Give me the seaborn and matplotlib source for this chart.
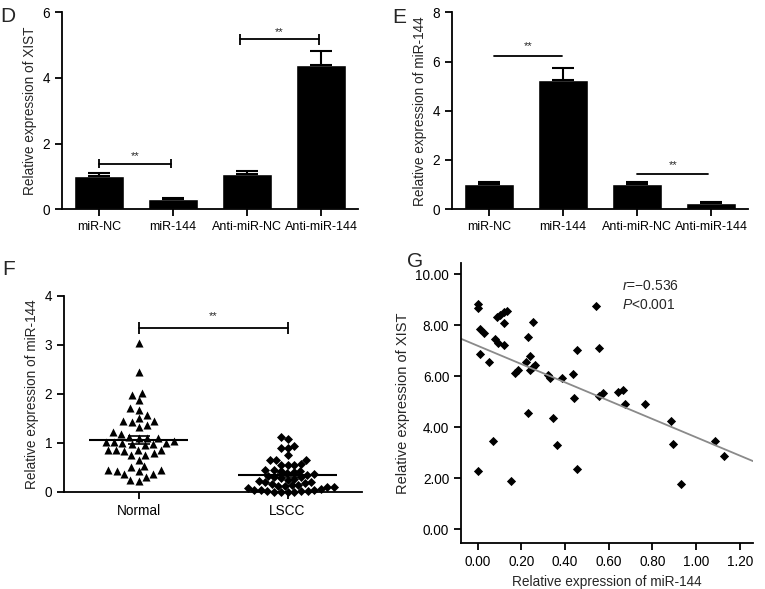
import numpy as np
import pandas as pd
import matplotlib
matplotlib.use('Agg')
import matplotlib.pyplot as plt
import seaborn as sns
from matplotlib.ticker import FormatStrFormatter

# Panel D - XIST after miR-144 / anti-miR-144
groups = ['miR-NC', 'miR-144', 'Anti-miR-NC', 'Anti-miR-144']
xist_mean = [1.01, 0.30, 1.06, 4.39]
xist_err = [0.10, 0.04, 0.09, 0.42]

# Panel E - miR-144 after the same treatments
mir_mean = [1.03, 5.24, 1.03, 0.25]
mir_err = [0.07, 0.50, 0.07, 0.03]

# Panel F - miR-144 in tissues
normal_vals = [3.04, 2.44, 2.02, 1.98, 1.87, 1.68, 1.72, 1.58, 1.45, 1.42, 1.45, 1.51,
               1.32, 1.37, 1.22, 1.18, 1.11, 1.12, 1.11, 1.03, 0.98, 1.00, 1.05, 0.97,
               1.02, 0.86, 0.86, 0.85, 0.76, 0.79, 0.84, 0.86, 0.66, 0.43, 0.37, 0.51,
               0.45, 0.45, 0.54, 0.37, 0.42, 0.31, 0.22, 0.25, 0.95, 1.00, 0.75, 1.10]
lscc_vals = [1.08, 1.13, 0.90, 0.90, 0.93, 0.76, 0.66, 0.66, 0.56, 0.56, 0.56, 0.58,
             0.66, 0.45, 0.43, 0.45, 0.42, 0.40, 0.38, 0.36, 0.35, 0.33, 0.30, 0.30,
             0.28, 0.27, 0.25, 0.22, 0.20, 0.20, 0.18, 0.16, 0.15, 0.14, 0.12, 0.10,
             0.10, 0.08, 0.06, 0.05, 0.04, 0.03, 0.02, 0.02, 0.01, 0.01, 0.00, 0.00,
             0.05, 0.12]

# Panel G - correlation miR-144 vs XIST
g_mir = [0.00, 0.00, 0.011, 0.03, 0.011, 0.05, 0.088, 0.104, 0.119, 0.135, 0.123, 0.081,
         0.092, 0.123, 0.171, 0.183, 0.221, 0.232, 0.252, 0.24, 0.24, 0.252, 0.262, 0.232,
         0.32, 0.331, 0.384, 0.343, 0.435, 0.442, 0.453, 0.544, 0.555, 0.555, 0.575, 0.643,
         0.663, 0.673, 0.765, 0.887, 1.085, 0.00, 0.072, 0.152, 0.361, 0.453, 0.895, 0.929,
         1.128]
g_xist = [8.85, 8.68, 7.87, 7.68, 6.87, 6.57, 8.33, 8.40, 8.52, 8.56, 8.07, 7.45,
          7.31, 7.22, 6.14, 6.24, 6.57, 7.54, 8.13, 6.79, 6.24, 6.37, 6.44, 4.57,
          6.05, 5.92, 5.92, 4.35, 6.08, 5.14, 7.02, 8.75, 7.11, 5.23, 5.33, 5.37,
          5.46, 4.91, 4.90, 4.25, 3.45, 2.30, 3.46, 1.91, 3.31, 2.35, 3.35, 1.78,
          2.88]

sns.set_style('ticks')
plt.rcParams['font.family'] = ['Liberation Sans', 'DejaVu Sans']
plt.rcParams['mathtext.fontset'] = 'custom'
plt.rcParams['mathtext.rm'] = 'Liberation Sans'
plt.rcParams['mathtext.it'] = 'Liberation Sans:italic'
plt.rcParams['axes.linewidth'] = 1.3
plt.rcParams['xtick.major.width'] = 1.3
plt.rcParams['ytick.major.width'] = 1.3
plt.rcParams['xtick.major.size'] = 5
plt.rcParams['ytick.major.size'] = 5
plt.rcParams['xtick.color'] = 'black'
plt.rcParams['ytick.color'] = 'black'
plt.rcParams['axes.edgecolor'] = 'black'

fs = 9.8
fig = plt.figure(figsize=(7.65, 5.89), dpi=100)
axD = fig.add_axes([0.081, 0.645, 0.387, 0.334])
axE = fig.add_axes([0.591, 0.645, 0.387, 0.334])
axF = fig.add_axes([0.0837, 0.1647, 0.3895, 0.3328])
axG = fig.add_axes([0.6026, 0.0776, 0.3817, 0.4754])


def bar_panel(ax, means, errs, ymax, ylabel):
    df = pd.DataFrame({'group': groups, 'value': means})
    sns.barplot(data=df, x='group', y='value', color='black', width=0.68,
                errorbar=None, ax=ax, saturation=1)
    ax.errorbar(range(len(means)), means, yerr=[np.zeros(len(errs)), errs],
                fmt='none', ecolor='black', elinewidth=1.5, capsize=8, capthick=1.5)
    ax.set_xlim(-0.5, 3.5)
    ax.set_ylim(0, ymax)
    ax.set_yticks(np.arange(0, ymax + 1, 2))
    ax.set_xlabel('')
    ax.set_ylabel(ylabel, fontsize=fs)
    ax.tick_params(axis='y', labelsize=fs)
    ax.tick_params(axis='x', labelsize=9)
    sns.despine(ax=ax)


def bracket(ax, x1, x2, y, tick, star_y):
    ax.plot([x1, x2], [y, y], color='black', lw=1.3)
    if tick > 0:
        ax.vlines([x1, x2], y - tick, y + tick, color='black', lw=1.3)
    ax.text((x1 + x2) / 2, star_y, '**', ha='center', va='center', fontsize=8)


bar_panel(axD, xist_mean, xist_err, 6, 'Relative expression of XIST')
bracket(axD, 0, 0.97, 1.39, 0.15, 1.62)
bracket(axD, 1.9, 2.97, 5.18, 0.17, 5.4)

bar_panel(axE, mir_mean, mir_err, 8, 'Relative expression of miR-144')
bracket(axE, 0.07, 0.99, 6.24, 0, 6.62)
bracket(axE, 2.0, 2.96, 1.42, 0, 1.8)

# Panel F
fdf_n = pd.DataFrame({'group': 'Normal', 'value': normal_vals})
fdf_l = pd.DataFrame({'group': 'LSCC', 'value': lscc_vals})
order = ['Normal', 'LSCC']
sns.swarmplot(data=fdf_n, x='group', y='value', order=order, marker='^', color='black',
              size=5.8, ax=axF, warn_thresh=1)
sns.swarmplot(data=fdf_l, x='group', y='value', order=order, marker='D', color='black',
              size=4.6, ax=axF, warn_thresh=1)
for coll in axF.collections:
    coll.set_clip_on(False)
for i, vals in enumerate([normal_vals, lscc_vals]):
    v = np.array(vals)
    m = v.mean()
    se = v.std(ddof=1) / np.sqrt(len(v))
    axF.hlines(m, i - 0.33, i + 0.33, color='black', lw=1.5, zorder=5)
    axF.errorbar(i, m, yerr=se, fmt='none', ecolor='black', elinewidth=1.2,
                 capsize=8, capthick=1.2, zorder=5)
axF.set_xlim(-0.5, 1.5)
axF.set_ylim(0, 4)
axF.set_yticks([0, 1, 2, 3, 4])
axF.set_xlabel('')
axF.set_ylabel('Relative expression of miR-144', fontsize=fs)
axF.tick_params(labelsize=fs)
sns.despine(ax=axF)
bracket(axF, 0, 1, 3.34, 0.12, 3.58)

# Panel G
axG.set_xlim(-0.076, 1.26)
axG.set_ylim(-0.55, 10.43)
sns.regplot(x=g_mir, y=g_xist, ci=None, scatter=False, truncate=False, ax=axG,
            line_kws={'color': '#8a8a8a', 'lw': 1.3})
sns.scatterplot(x=g_mir, y=g_xist, marker='D', color='black', s=22, linewidth=0, ax=axG)
axG.set_xlim(-0.076, 1.26)
axG.set_ylim(-0.55, 10.43)
axG.set_xticks(np.arange(0, 1.21, 0.2))
axG.set_yticks(np.arange(0, 10.1, 2))
axG.xaxis.set_major_formatter(FormatStrFormatter('%.2f'))
axG.yaxis.set_major_formatter(FormatStrFormatter('%.2f'))
axG.set_xlabel('Relative expression of miR-144', fontsize=fs)
axG.set_ylabel('Relative expression of XIST', fontsize=10.5)
axG.tick_params(labelsize=fs)
sns.despine(ax=axG)
axG.text(0.66, 9.55, '$\\it{r}$=\u22120.536', fontsize=10, va='center')
axG.text(0.66, 8.8, '$\\it{P}$<0.001', fontsize=10, va='center')

# panel letters
for lab, x, y in [('D', 0.0, 0.972), ('E', 0.513, 0.97), ('F', 0.003, 0.542), ('G', 0.532, 0.556)]:
    fig.text(x, y, lab, fontsize=15, va='center', ha='left')

fig.savefig('out.png', dpi=100)
